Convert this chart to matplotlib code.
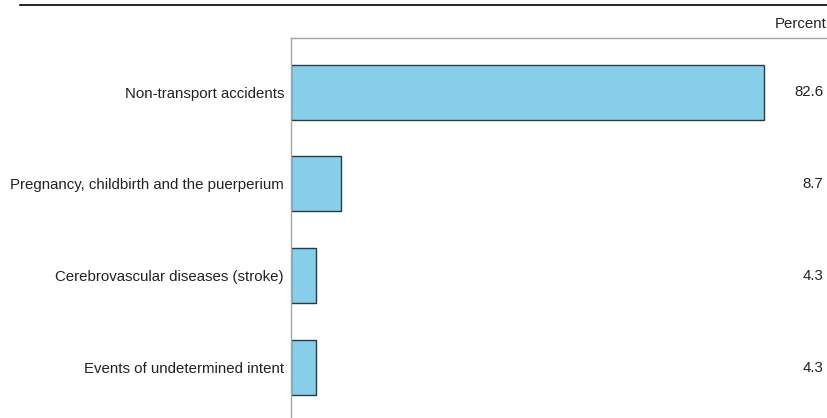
import matplotlib.pyplot as plt
from matplotlib.lines import Line2D

categories = [
    "Non-transport accidents",
    "Pregnancy, childbirth and the puerperium",
    "Cerebrovascular diseases (stroke)",
    "Events of undetermined intent",
]
values = [82.6, 8.7, 4.3, 4.3]

plt.rcParams["font.family"] = ["Liberation Sans", "DejaVu Sans"]
fontsize = 10.8

fig = plt.figure(figsize=(8.27, 4.18), dpi=100)
ax = fig.add_axes([0.3519, 0.0, 0.6481, 0.909])

pos = list(range(len(categories)))
ax.barh(pos, values, height=0.6, color="#87ceeb", edgecolor="#2b3a48", linewidth=1.0)
ax.set_ylim(3.55, -0.59)
ax.set_xlim(0, 93.6)

ax.set_yticks(pos)
ax.set_yticklabels(categories, fontsize=fontsize, color="#222222")
ax.tick_params(axis="y", length=0, pad=5)
ax.set_xticks([])

for s in ["right", "bottom"]:
    ax.spines[s].set_visible(False)
for s in ["left", "top"]:
    ax.spines[s].set_color("#a6a6a6")
    ax.spines[s].set_linewidth(1.0)

# value labels on the right edge
for p, v in zip(pos, values):
    ax.text(0.993, p, "{:.1f}".format(v), transform=ax.get_yaxis_transform(),
            ha="right", va="center", fontsize=fontsize, color="#222222")

fig.text(0.999, 1 - 24 / 418, "Percent", ha="right", va="center",
         fontsize=fontsize, color="#222222")
fig.add_artist(Line2D([20 / 827, 1.0], [1 - 4.5 / 418] * 2, color="black", linewidth=1.2))

fig.savefig("out.png", dpi=100)
